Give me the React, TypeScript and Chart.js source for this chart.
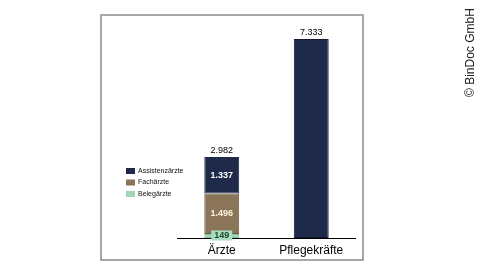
import React, { useEffect, useRef } from "react";
import { Chart, registerables } from "chart.js";

Chart.register(...registerables);

const categories = ["Ärzte", "Pflegekräfte"];
const belegaerzte = [149, null];
const fachaerzte = [1496, null];
const assistenzaerzte = [1337, null];
const pflegekraefte = [null, 7333];
const legendLabels = ["Assistenzärzte", "Fachärzte", "Belegärzte"];
const copyright = "© BinDoc GmbH";

const NAVY = "#1f2a4b";
const BROWN = "#8b7558";
const GREEN = "#9fd6b8";
const FONT = "'Liberation Sans', Arial, sans-serif";

const fmt = (v: number) => String(v).replace(/\B(?=(\d{3})+(?!\d))/g, ".");

export default function App() {
  const ref = useRef<HTMLCanvasElement | null>(null);
  useEffect(() => {
    document.body.style.margin = "0";
    const canvas = ref.current!;
    const overlay = {
      id: "overlay",
      beforeDraw(chart: any) {
        const ctx = chart.ctx;
        ctx.save();
        ctx.fillStyle = "#fff";
        ctx.fillRect(0, 0, chart.width, chart.height);
        ctx.strokeStyle = "#8a8a8a";
        ctx.lineWidth = 1.5;
        ctx.strokeRect(101, 15, 262, 245);
        ctx.restore();
      },
      afterDraw(chart: any) {
        const ctx = chart.ctx;
        const x = chart.scales.x;
        const y = chart.scales.y;
        const area = chart.chartArea;
        ctx.save();
        // axis line
        ctx.strokeStyle = "#000";
        ctx.lineWidth = 1;
        ctx.beginPath();
        ctx.moveTo(area.left, area.bottom + 0.5);
        ctx.lineTo(area.right, area.bottom + 0.5);
        ctx.stroke();
        // category labels
        ctx.fillStyle = "#000";
        ctx.font = `12px ${FONT}`;
        ctx.textAlign = "center";
        ctx.textBaseline = "middle";
        categories.forEach((c, i) => {
          ctx.fillText(c, x.getPixelForValue(i), area.bottom + 13);
        });
        // totals
        ctx.font = `9px ${FONT}`;
        ctx.textBaseline = "bottom";
        categories.forEach((_, i) => {
          let total = 0;
          chart.data.datasets.forEach((d: any) => {
            if (d.data[i] != null) total += d.data[i];
          });
          ctx.fillText(fmt(total), x.getPixelForValue(i), y.getPixelForValue(total) - 2);
        });
        // segment labels
        const segs = [
          { ds: 0, color: "#1e4a2a", bg: "#a9dcc2", bold: true },
          { ds: 1, color: "#fff3e0", bg: null, bold: true },
          { ds: 2, color: "#ffffff", bg: null, bold: true },
        ];
        segs.forEach((s) => {
          const meta = chart.getDatasetMeta(s.ds);
          const el = meta.data[0] as any;
          const v = chart.data.datasets[s.ds].data[0] as number;
          const cx = el.x;
          const cy = (el.y + el.base) / 2;
          ctx.font = `${s.bold ? "bold " : ""}9px ${FONT}`;
          ctx.textBaseline = "middle";
          ctx.textAlign = "center";
          const t = fmt(v);
          if (s.bg) {
            const w = ctx.measureText(t).width + 6;
            ctx.fillStyle = s.bg;
            ctx.fillRect(cx - w / 2, cy - 5.5, w, 10);
          }
          ctx.fillStyle = s.color;
          ctx.fillText(t, cx, cy);
        });
        // legend
        const cols = [NAVY, BROWN, GREEN];
        ctx.font = `7px ${FONT}`;
        ctx.textAlign = "left";
        ctx.textBaseline = "middle";
        legendLabels.forEach((l, i) => {
          const ly = 171 + i * 11.5;
          ctx.fillStyle = cols[i];
          ctx.fillRect(126, ly - 3, 9, 6);
          ctx.fillStyle = "#111";
          ctx.fillText(l, 138, ly);
        });
        // copyright
        ctx.translate(471, 97);
        ctx.rotate(-Math.PI / 2);
        ctx.font = `12px ${FONT}`;
        ctx.fillStyle = "#222";
        ctx.textAlign = "left";
        ctx.fillText(copyright, 0, 0);
        ctx.restore();
      },
    };
    const common = { borderColor: NAVY, borderWidth: 1, borderSkipped: false, categoryPercentage: 1, barPercentage: 0.39 };
    const chart = new Chart(canvas, {
      type: "bar",
      data: {
        labels: categories,
        datasets: [
          { label: "Belegärzte", data: belegaerzte, backgroundColor: GREEN, ...common, borderColor: "#7fbf9c" },
          { label: "Fachärzte", data: fachaerzte, backgroundColor: BROWN, ...common, borderColor: "#6e5c45" },
          { label: "Assistenzärzte", data: assistenzaerzte, backgroundColor: NAVY, ...common },
          { label: "Pflegekräfte", data: pflegekraefte, backgroundColor: NAVY, ...common, borderColor: "#111a30" },
        ] as any,
      },
      options: {
        responsive: false,
        animation: false,
        layout: { padding: { left: 177, right: 124, top: 21, bottom: 32 } },
        plugins: { legend: { display: false }, tooltip: { enabled: false } },
        scales: {
          x: { stacked: true, display: false },
          y: { stacked: true, display: false, min: 0, max: 8000 },
        },
      },
      plugins: [overlay],
    });
    return () => chart.destroy();
  }, []);
  return (
    <div style={{ width: 480, height: 270 }}>
      <canvas ref={ref} width={480} height={270} />
    </div>
  );
}
